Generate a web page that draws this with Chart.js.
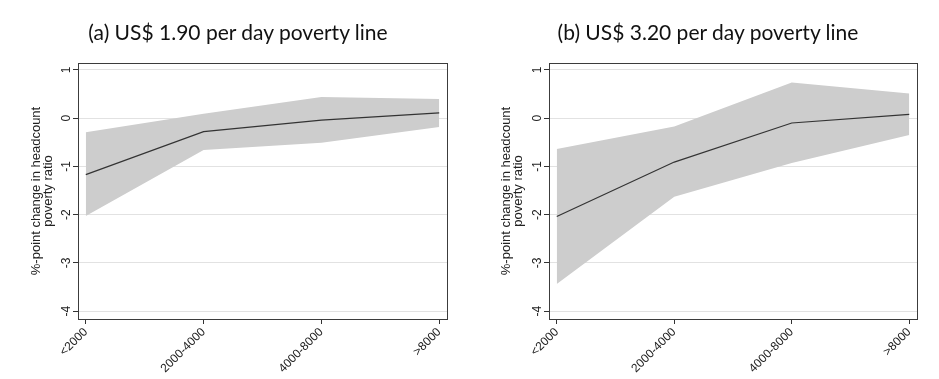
<!DOCTYPE html>
<html>
<head>
<meta charset="utf-8">
<script src="https://cdn.jsdelivr.net/npm/chart.js@4/dist/chart.umd.min.js"></script>
<style>
  html, body { margin: 0; padding: 0; background: #fff; }
  #wrap { position: relative; width: 939px; height: 379px; overflow: hidden; }
  .panel { position: absolute; top: 0; width: 469px; height: 379px; }
  .ttl { position: absolute; top: 19px; font-family: Lato, "Open Sans", "Liberation Sans", sans-serif; font-size: 21px; line-height: 26px; color: #111; white-space: nowrap; transform: translateX(-50%); }
</style>
</head>
<body>
<div id="wrap">
  <div class="panel" style="left:0px"><canvas id="cA" width="469" height="379"></canvas></div>
  <div class="panel" style="left:470px"><canvas id="cB" width="469" height="379"></canvas></div>
  <div class="ttl" style="left:238px">(a) US$ 1.90 per day poverty line</div>
  <div class="ttl" style="left:708px">(b) US$ 3.20 per day poverty line</div>
</div>
<script>
// ---- data ----
const categories = ['<2000', '2000-4000', '4000-8000', '>8000'];
const yTickValues = [-4, -3, -2, -1, 0, 1];
const yAxisTitle = ['%-point change in headcount', 'poverty ratio'];

// panel (a) US$ 1.90
const estA   = [-1.17, -0.28, -0.04, 0.11];
const upperA = [-0.29,  0.09,  0.44, 0.40];
const lowerA = [-2.03, -0.66, -0.51, -0.18];

// panel (b) US$ 3.20
const estB   = [-2.04, -0.91, -0.10, 0.08];
const upperB = [-0.64, -0.17,  0.74, 0.51];
const lowerB = [-3.44, -1.63, -0.93, -0.35];

// ---- chart building ----
const toPts = arr => arr.map((v, i) => ({ x: i, y: v }));

const framePlugin = {
  id: 'frame',
  afterDraw(chart) {
    const { ctx, chartArea: a } = chart;
    ctx.save();
    ctx.strokeStyle = '#3c3c3c';
    ctx.lineWidth = 1;
    ctx.strokeRect(Math.round(a.left) + 0.5, Math.round(a.top) + 0.5,
                   Math.round(a.right - a.left), Math.round(a.bottom - a.top));
    ctx.restore();
  }
};

function makeChart(id, est, upper, lower, yWidth) {
  const tickFont = { family: '"Liberation Sans", Arial, sans-serif', size: 12 };
  return new Chart(document.getElementById(id), {
    type: 'line',
    data: {
      datasets: [
        { label: 'estimate', data: toPts(est), borderColor: '#333333', borderWidth: 1.2,
          pointRadius: 0, fill: false, tension: 0 },
        { label: 'upper', data: toPts(upper), borderWidth: 0, borderColor: 'rgba(0,0,0,0)',
          backgroundColor: '#cdcdcd', pointRadius: 0, fill: '+1', tension: 0 },
        { label: 'lower', data: toPts(lower), borderWidth: 0, borderColor: 'rgba(0,0,0,0)',
          pointRadius: 0, fill: false, tension: 0 }
      ]
    },
    options: {
      responsive: false,
      animation: false,
      devicePixelRatio: 1,
      layout: { padding: { top: 63, right: 22, bottom: 0, left: 0 } },
      plugins: { legend: { display: false }, tooltip: { enabled: false }, title: { display: false } },
      scales: {
        x: {
          type: 'linear',
          min: -0.066, max: 3.066,
          afterBuildTicks: s => { s.ticks = categories.map((_, i) => ({ value: i })); },
          afterFit: s => { s.height = 60; },
          grid: { color: 'rgba(0,0,0,0)', tickColor: '#333', tickLength: 5, drawOnChartArea: false },
          border: { display: true, color: '#333', width: 1 },
          ticks: { autoSkip: false, minRotation: 45, maxRotation: 45, padding: 1, color: '#222',
                   font: tickFont, callback: v => categories[v] }
        },
        y: {
          min: -4.165, max: 1.145,
          afterBuildTicks: s => { s.ticks = yTickValues.map(v => ({ value: v })); },
          afterFit: s => { s.width = yWidth; },
          grid: { color: '#e2e2e2', tickColor: '#333', tickLength: 5, lineWidth: 1 },
          border: { display: true, color: '#333', width: 1 },
          ticks: { minRotation: 90, maxRotation: 90, crossAlign: 'center', padding: 1, color: '#222',
                   font: tickFont, callback: v => String(v) },
          title: { display: true, text: yAxisTitle, color: '#222',
                   font: { family: '"Liberation Sans", Arial, sans-serif', size: 13, lineHeight: 0.95 },
                   padding: { top: 30, bottom: 0 } }
        }
      }
    },
    plugins: [framePlugin]
  });
}

makeChart('cA', estA, upperA, lowerA, 78);
makeChart('cB', estB, upperB, lowerB, 79);
</script>
</body>
</html>
